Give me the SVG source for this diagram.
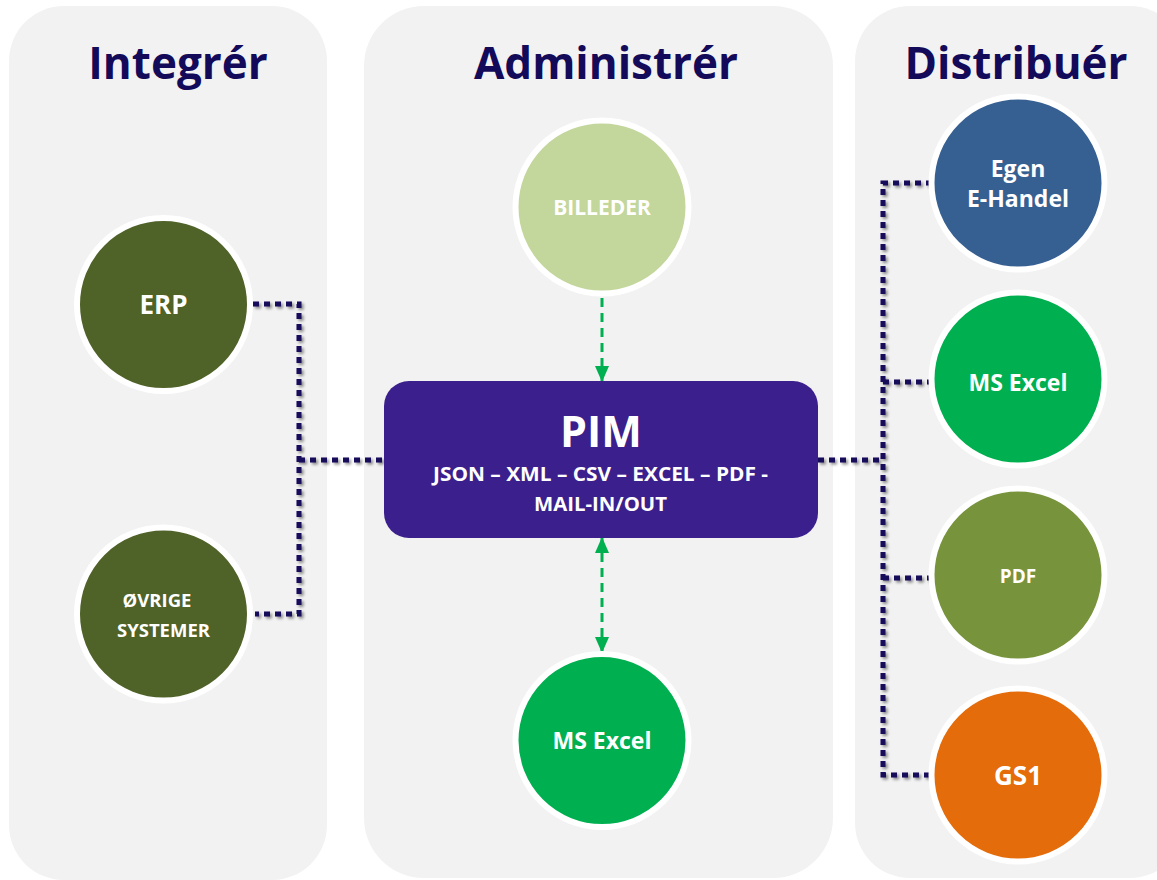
<svg xmlns="http://www.w3.org/2000/svg" width="1157" height="880" viewBox="0 0 1157 880">
<defs>
<style>
.panel{fill:#f2f2f2}
.title{font-family:"Open Sans","Liberation Sans",sans-serif;font-weight:bold;font-size:44px;fill:#140a5a;text-anchor:middle}
.node{stroke:#ffffff;stroke-width:6}
.lbl{font-family:"Open Sans","Liberation Sans",sans-serif;font-weight:bold;fill:#ffffff;text-anchor:middle}
.dot{fill:none;stroke:#14085a;stroke-width:5;stroke-dasharray:6 5}
.grn{fill:none;stroke:#00b050;stroke-width:3;stroke-dasharray:9 6}
</style>
<filter id="sh" filterUnits="userSpaceOnUse" x="0" y="0" width="1157" height="880">
<feGaussianBlur in="SourceAlpha" stdDeviation="1.5"/>
<feOffset dx="1.5" dy="2" result="b"/>
<feComponentTransfer><feFuncA type="linear" slope="0.45"/></feComponentTransfer>
<feMerge><feMergeNode/><feMergeNode in="SourceGraphic"/></feMerge>
</filter>
<marker id="ah" viewBox="0 0 16 14" refX="15" refY="7" markerWidth="16" markerHeight="14" markerUnits="userSpaceOnUse" orient="auto-start-reverse">
<path d="M0,0 L16,7 L0,14 Z" fill="#00b050"/>
</marker>
</defs>
<rect width="1157" height="880" fill="#ffffff"/>
<g id="panels">
<rect class="panel" x="9" y="6" width="318" height="874" rx="55"/>
<rect class="panel" x="364" y="6" width="469" height="872" rx="60"/>
<rect class="panel" x="855" y="6" width="330" height="872" rx="55"/>
<text class="title" x="178" y="79">Integrér</text>
<text class="title" x="606" y="79">Administrér</text>
<text class="title" x="1016" y="79">Distribuér</text>
</g>
<g id="connectors">
<g filter="url(#sh)">
<polyline class="dot" points="253,304 299,304 299,614 255,614"/>
<line class="dot" x1="299" y1="460" x2="384" y2="460"/>
<polyline class="dot" points="932,183 883,183 883,775 932,775"/>
<line class="dot" x1="818" y1="460" x2="883" y2="460"/>
<line class="dot" x1="883" y1="382" x2="932" y2="382"/>
<line class="dot" x1="883" y1="578" x2="932" y2="578"/>
</g>
<line class="grn" x1="602" y1="298" x2="602" y2="381" marker-end="url(#ah)"/>
<line class="grn" x1="602" y1="538" x2="602" y2="652" marker-start="url(#ah)" marker-end="url(#ah)"/>
</g>
<g id="erp">
<circle class="node" cx="163.5" cy="304.5" r="86.5" fill="#4f6228"/>
<text class="lbl" x="163.5" y="314" font-size="26">ERP</text>
</g>
<g id="ovrige">
<circle class="node" cx="163.5" cy="614" r="86.5" fill="#4f6228"/>
<text class="lbl" x="157" y="607" font-size="18.5">ØVRIGE</text>
<text class="lbl" x="163.5" y="637" font-size="18.5">SYSTEMER</text>
</g>
<g id="billeder">
<circle class="node" cx="602" cy="207" r="86.5" fill="#c3d69b"/>
<text class="lbl" x="602" y="215" font-size="21">BILLEDER</text>
</g>
<g id="pim">
<rect x="384" y="381" width="434" height="157" rx="25" fill="#3b1f8c"/>
<text class="lbl" x="601" y="447" font-size="43">PIM</text>
<text class="lbl" x="600.5" y="481" font-size="19" textLength="335" lengthAdjust="spacingAndGlyphs">JSON – XML – CSV – EXCEL – PDF -</text>
<text class="lbl" x="600.5" y="511" font-size="19" textLength="133" lengthAdjust="spacingAndGlyphs">MAIL-IN/OUT</text>
</g>
<g id="msexcel-admin">
<circle class="node" cx="602" cy="740.5" r="86.5" fill="#00b050"/>
<text class="lbl" x="602" y="749" font-size="23">MS Excel</text>
</g>
<g id="ehandel">
<circle class="node" cx="1018" cy="183" r="86.5" fill="#376092"/>
<text class="lbl" x="1018" y="177" font-size="23">Egen</text>
<text class="lbl" x="1018" y="207" font-size="23">E-Handel</text>
</g>
<g id="msexcel-dist">
<circle class="node" cx="1018" cy="379" r="86.5" fill="#00b050"/>
<text class="lbl" x="1018" y="391" font-size="23">MS Excel</text>
</g>
<g id="pdf">
<circle class="node" cx="1018" cy="575" r="86.5" fill="#77933c"/>
<text class="lbl" x="1018" y="583" font-size="19">PDF</text>
</g>
<g id="gs1">
<circle class="node" cx="1018" cy="775" r="86.5" fill="#e46c0a"/>
<text class="lbl" x="1018" y="785" font-size="26">GS1</text>
</g>
</svg>
